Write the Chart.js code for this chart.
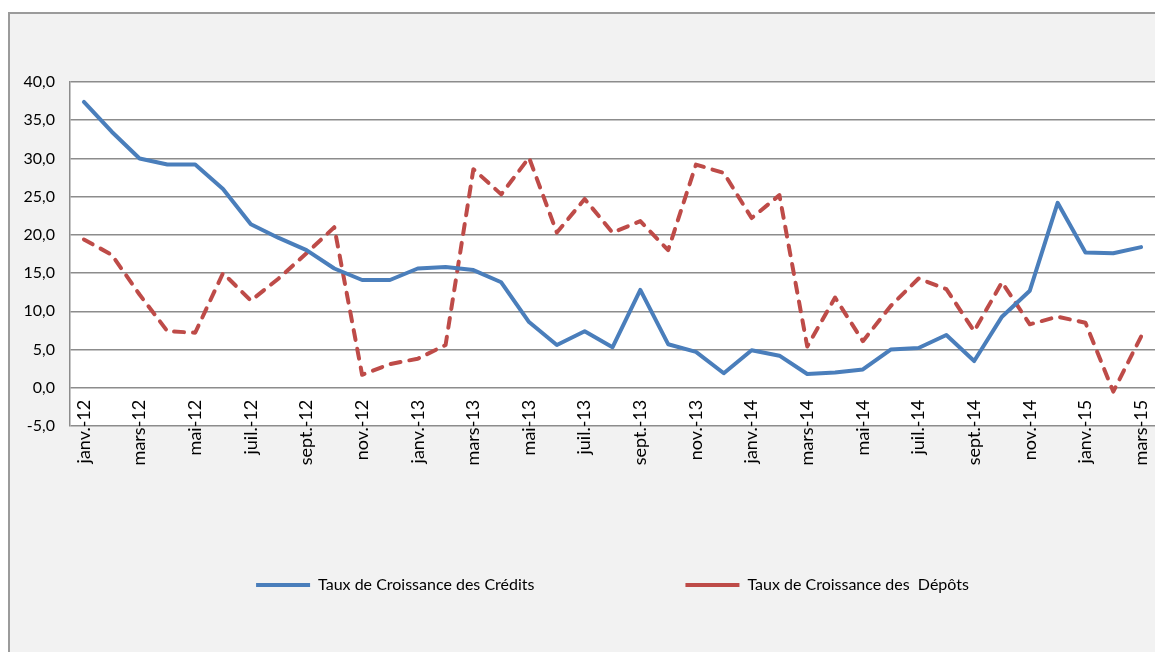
<!DOCTYPE html>
<html>
<head>
<meta charset="utf-8">
<script src="https://cdn.jsdelivr.net/npm/chart.js@4.4.1/dist/chart.umd.min.js"></script>
<style>
  html, body { margin: 0; padding: 0; background: #ffffff; overflow: hidden; width: 1155px; height: 652px; }
  #box { position: absolute; left: 8px; top: 12px; width: 1300px; height: 800px; background: #f2f2f2; border: 2px solid #9b9b9b; }
  #wrap { position: absolute; left: 0; top: 0; width: 1206px; height: 652px; }
</style>
</head>
<body>
<div id="box"></div>
<div id="wrap"><canvas id="c" width="1206" height="652"></canvas></div>
<script>
const months = [
  "janv.-12","févr.-12","mars-12","avr.-12","mai-12","juin-12","juil.-12","août-12","sept.-12","oct.-12","nov.-12","déc.-12",
  "janv.-13","févr.-13","mars-13","avr.-13","mai-13","juin-13","juil.-13","août-13","sept.-13","oct.-13","nov.-13","déc.-13",
  "janv.-14","févr.-14","mars-14","avr.-14","mai-14","juin-14","juil.-14","août-14","sept.-14","oct.-14","nov.-14","déc.-14",
  "janv.-15","févr.-15","mars-15"
];
const credits = [
  37.4, 33.5, 30.0, 29.2, 29.2, 26.0, 21.4, 19.6, 18.0, 15.6, 14.1, 14.1,
  15.6, 15.8, 15.4, 13.8, 8.6, 5.6, 7.4, 5.3, 12.8, 5.7, 4.7, 1.9,
  4.9, 4.2, 1.8, 2.0, 2.4, 5.0, 5.2, 6.9, 3.5, 9.3, 12.7, 24.2,
  17.7, 17.6, 18.4
];
const depots = [
  19.4, 17.4, 12.2, 7.4, 7.2, 15.0, 11.4, 14.3, 17.6, 21.0, 1.7, 3.1,
  3.8, 5.6, 28.6, 25.3, 30.1, 20.3, 24.7, 20.3, 21.8, 18.0, 29.2, 28.1,
  22.2, 25.2, 5.4, 11.8, 6.1, 10.7, 14.3, 12.9, 7.4, 13.8, 8.3, 9.3,
  8.5, -0.5, 6.7
];
const seriesNames = ["Taux de Croissance des Crédits", "Taux de Croissance des  Dépôts"];
const yMin = -5, yMax = 40, yStep = 5;

const FONT = "Lato";
const whiteArea = {
  id: 'whiteArea',
  beforeDraw(chart) {
    const {ctx, chartArea: {left, top, width, height}} = chart;
    ctx.save();
    ctx.fillStyle = '#ffffff';
    ctx.fillRect(left, top, width, height);
    ctx.restore();
  }
};

new Chart(document.getElementById('c'), {
  type: 'line',
  data: {
    labels: months,
    datasets: [
      {
        label: seriesNames[0],
        data: credits,
        borderColor: '#4A7EBB',
        backgroundColor: '#4A7EBB',
        borderWidth: 4,
        pointRadius: 0,
        tension: 0,
        borderJoinStyle: 'round',
        borderCapStyle: 'round',
        fill: false
      },
      {
        label: seriesNames[1],
        data: depots,
        borderColor: '#BE4B48',
        backgroundColor: '#BE4B48',
        borderWidth: 4,
        borderDash: [10, 9],
        borderCapStyle: 'round',
        borderJoinStyle: 'round',
        pointRadius: 0,
        tension: 0,
        fill: false
      }
    ]
  },
  options: {
    responsive: false,
    animation: false,
    devicePixelRatio: 1,
    layout: { padding: { left: 12, right: 51, top: 82, bottom: 49 } },
    plugins: {
      tooltip: { enabled: false },
      legend: {
        display: true,
        position: 'bottom',
        fullSize: false,
        labels: {
          usePointStyle: true,
          pointStyle: 'line',
          pointStyleWidth: 54,
          padding: 151,
          color: '#000000',
          font: { family: FONT, size: 16 }
        }
      }
    },
    scales: {
      x: {
        type: 'category',
        position: { y: 0 },
        offset: true,
        grid: { display: false, drawTicks: false },
        border: { display: false },
        ticks: {
          autoSkip: false,
          maxRotation: 90,
          minRotation: 90,
          padding: 12,
          color: '#000000',
          font: { family: FONT, size: 18 },
          callback(value, index) { return index % 2 === 0 ? months[index] : ''; }
        }
      },
      y: {
        min: yMin,
        max: yMax,
        afterFit(scale) { scale.width = 58; },
        grid: { color: '#8c8c8c', lineWidth: 1.5, drawTicks: false },
        border: { display: true, color: '#8c8c8c', width: 1.5 },
        ticks: {
          stepSize: yStep,
          padding: 15,
          color: '#000000',
          font: { family: FONT, size: 16 },
          callback(v) { return v.toFixed(1).replace('.', ','); }
        }
      }
    }
  },
  plugins: [whiteArea]
});
</script>
</body>
</html>
